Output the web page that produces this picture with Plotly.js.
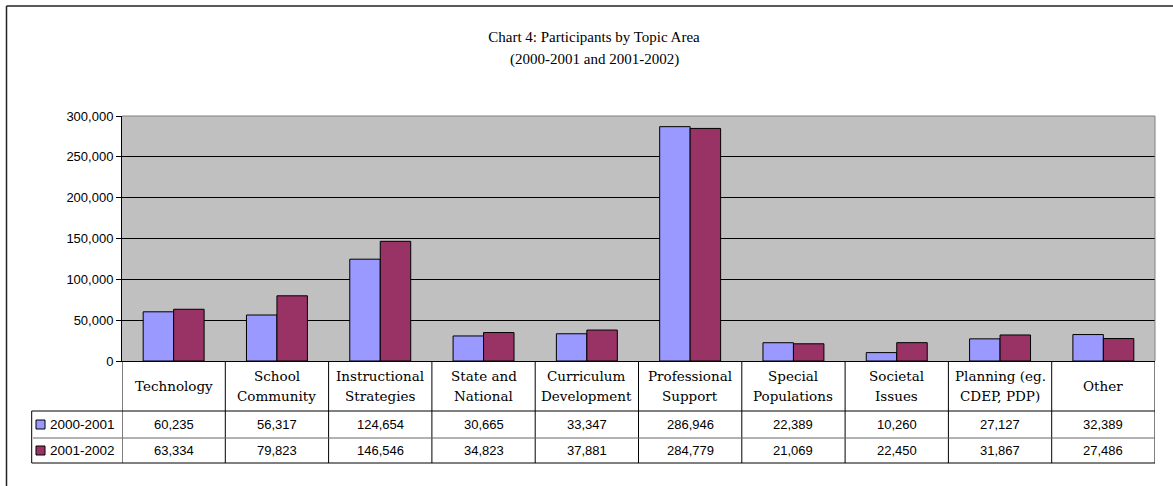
<!DOCTYPE html>
<html>
<head>
<meta charset="utf-8">
<script src="https://cdn.plot.ly/plotly-3.0.1.min.js"></script>
<style>html,body{margin:0;padding:0;background:#fff;}#chart{width:1173px;height:486px;}</style>
</head>
<body>
<div id="chart"></div>
<script>
// ---- data ----
var categories = ["Technology", "School<br>Community", "Instructional<br>Strategies", "State and<br>National",
  "Curriculum<br>Development", "Professional<br>Support", "Special<br>Populations", "Societal<br>Issues",
  "Planning (eg.<br>CDEP, PDP)", "Other"];
var seriesNames = ["2000-2001", "2001-2002"];
var values2000 = [60235, 56317, 124654, 30665, 33347, 286946, 22389, 10260, 27127, 32389];
var values2001 = [63334, 79823, 146546, 34823, 37881, 284779, 21069, 22450, 31867, 27486];
var titleLine1 = "Chart 4: Participants by Topic Area";
var titleLine2 = "(2000-2001 and 2001-2002)";

// ---- geometry ----
var W = 1173, H = 486;
var mL = 122, mR = 18, mT = 116, mB = 125;
var pw = W - mL - mR, ph = H - mT - mB;
function xp(X) { return (X - mL) / pw; }
function yp(Y) { return (H - mB - Y) / ph; }
var colors = ["#9999FF", "#993366"];
var serif = "DejaVu Serif, serif";
var sans = "Liberation Sans, Arial, sans-serif";

var catIdx = categories.map(function (c, i) { return i; });
var traces = [values2000, values2001].map(function (vals, k) {
  return {
    type: "bar", x: catIdx, y: vals, name: seriesNames[k],
    marker: { color: colors[k], line: { color: "#000", width: 1 } },
    hoverinfo: "y"
  };
});

var yHeadTop = H - mB, yHeadBot = 411, yRow1Bot = 438, yRow2Bot = 463;
var tableLeft = xp(31.7);
var shapes = [];
var annotations = [];
function line(xref, x0, x1, y0, y1, color, width) {
  shapes.push({ type: "line", xref: xref, yref: "paper", x0: x0, x1: x1, y0: y0, y1: y1,
    line: { color: color, width: width } });
}
// plot area gray border (top/right)
line("paper", 0, 1, 1, 1, "#808080", 1);
line("paper", 1, 1, 0, 1, "#808080", 1);
// table lines
for (var i = 0; i <= categories.length; i++) {
  line("x", i - 0.5, i - 0.5, yp(yHeadTop), yp(yRow2Bot), "#000", 1);
}
line("paper", tableLeft, 1, yp(yHeadBot), yp(yHeadBot), "#000", 1);
line("paper", xp(33), 1, yp(yRow1Bot), yp(yRow1Bot), "#666", 1);
line("paper", tableLeft, 1, yp(yRow2Bot), yp(yRow2Bot), "#000", 1);
line("paper", tableLeft, tableLeft, yp(yHeadBot), yp(yRow2Bot), "#000", 1);
// outer frame (left & top)
line("paper", xp(6.5), xp(6.5), yp(6), yp(H + 2), "#222", 1.5);
line("paper", xp(6.5), xp(W + 2), yp(6), yp(6), "#222", 1.5);

// header labels
var headCenter = (yHeadTop + yHeadBot) / 2;
categories.forEach(function (c, i) {
  var parts = c.split("<br>");
  var gap = 20;
  parts.forEach(function (p, j) {
    var yc = headCenter + (j - (parts.length - 1) / 2) * gap;
    annotations.push({ xref: "x", yref: "paper", x: i, y: yp(yc), text: p, showarrow: false,
      xanchor: "center", yanchor: "middle", font: { family: serif, size: 13.5, color: "#000" } });
  });
});
// rows
var rowCenters = [(yHeadBot + yRow1Bot) / 2, (yRow1Bot + yRow2Bot) / 2];
[values2000, values2001].forEach(function (vals, k) {
  vals.forEach(function (v, i) {
    annotations.push({ xref: "x", yref: "paper", x: i, y: yp(rowCenters[k]),
      text: v.toLocaleString("en-US"), showarrow: false, xanchor: "center", yanchor: "middle",
      font: { family: sans, size: 13, color: "#000" } });
  });
  annotations.push({ xref: "paper", yref: "paper", x: xp(48), y: yp(rowCenters[k]),
    text: seriesNames[k], showarrow: false, xanchor: "left", yanchor: "middle",
    font: { family: sans, size: 13.5, color: "#000" } });
  shapes.push({ type: "rect", xref: "paper", yref: "paper",
    x0: xp(36), x1: xp(45), y0: yp(rowCenters[k] + 4.5), y1: yp(rowCenters[k] - 4.5),
    fillcolor: colors[k], line: { color: "#000", width: 1 } });
});
// title second line
annotations.push({ xref: "paper", yref: "paper", x: xp(594), y: yp(60), text: titleLine2,
  showarrow: false, xanchor: "center", yanchor: "middle",
  font: { family: "Liberation Serif, serif", size: 15, color: "#000" } });

var layout = {
  width: W, height: H,
  margin: { l: mL, r: mR, t: mT, b: mB, pad: 0 },
  paper_bgcolor: "#fff", plot_bgcolor: "#C0C0C0",
  showlegend: false,
  title: { text: titleLine1, x: 594 / W, xanchor: "center", xref: "container",
    y: 1 - 37 / H, yref: "container", yanchor: "middle",
    font: { family: "Liberation Serif, serif", size: 15, color: "#000" } },
  bargap: 0.41, bargroupgap: 0, barmode: "group",
  xaxis: { range: [-0.5, categories.length - 0.5], showticklabels: false, ticks: "",
    showgrid: false, zeroline: false, showline: true, linecolor: "#000", linewidth: 1, fixedrange: true },
  yaxis: { range: [0, 300000], dtick: 50000, tickformat: ",d", showline: true, linecolor: "#000",
    linewidth: 1, ticks: "outside", ticklen: 5, tickcolor: "#000", showgrid: true, gridcolor: "#000",
    gridwidth: 1, zeroline: false, tickfont: { family: sans, size: 13, color: "#000" }, fixedrange: true },
  shapes: shapes, annotations: annotations
};
Plotly.newPlot("chart", traces, layout, { displayModeBar: false, staticPlot: true });
</script>
</body>
</html>
